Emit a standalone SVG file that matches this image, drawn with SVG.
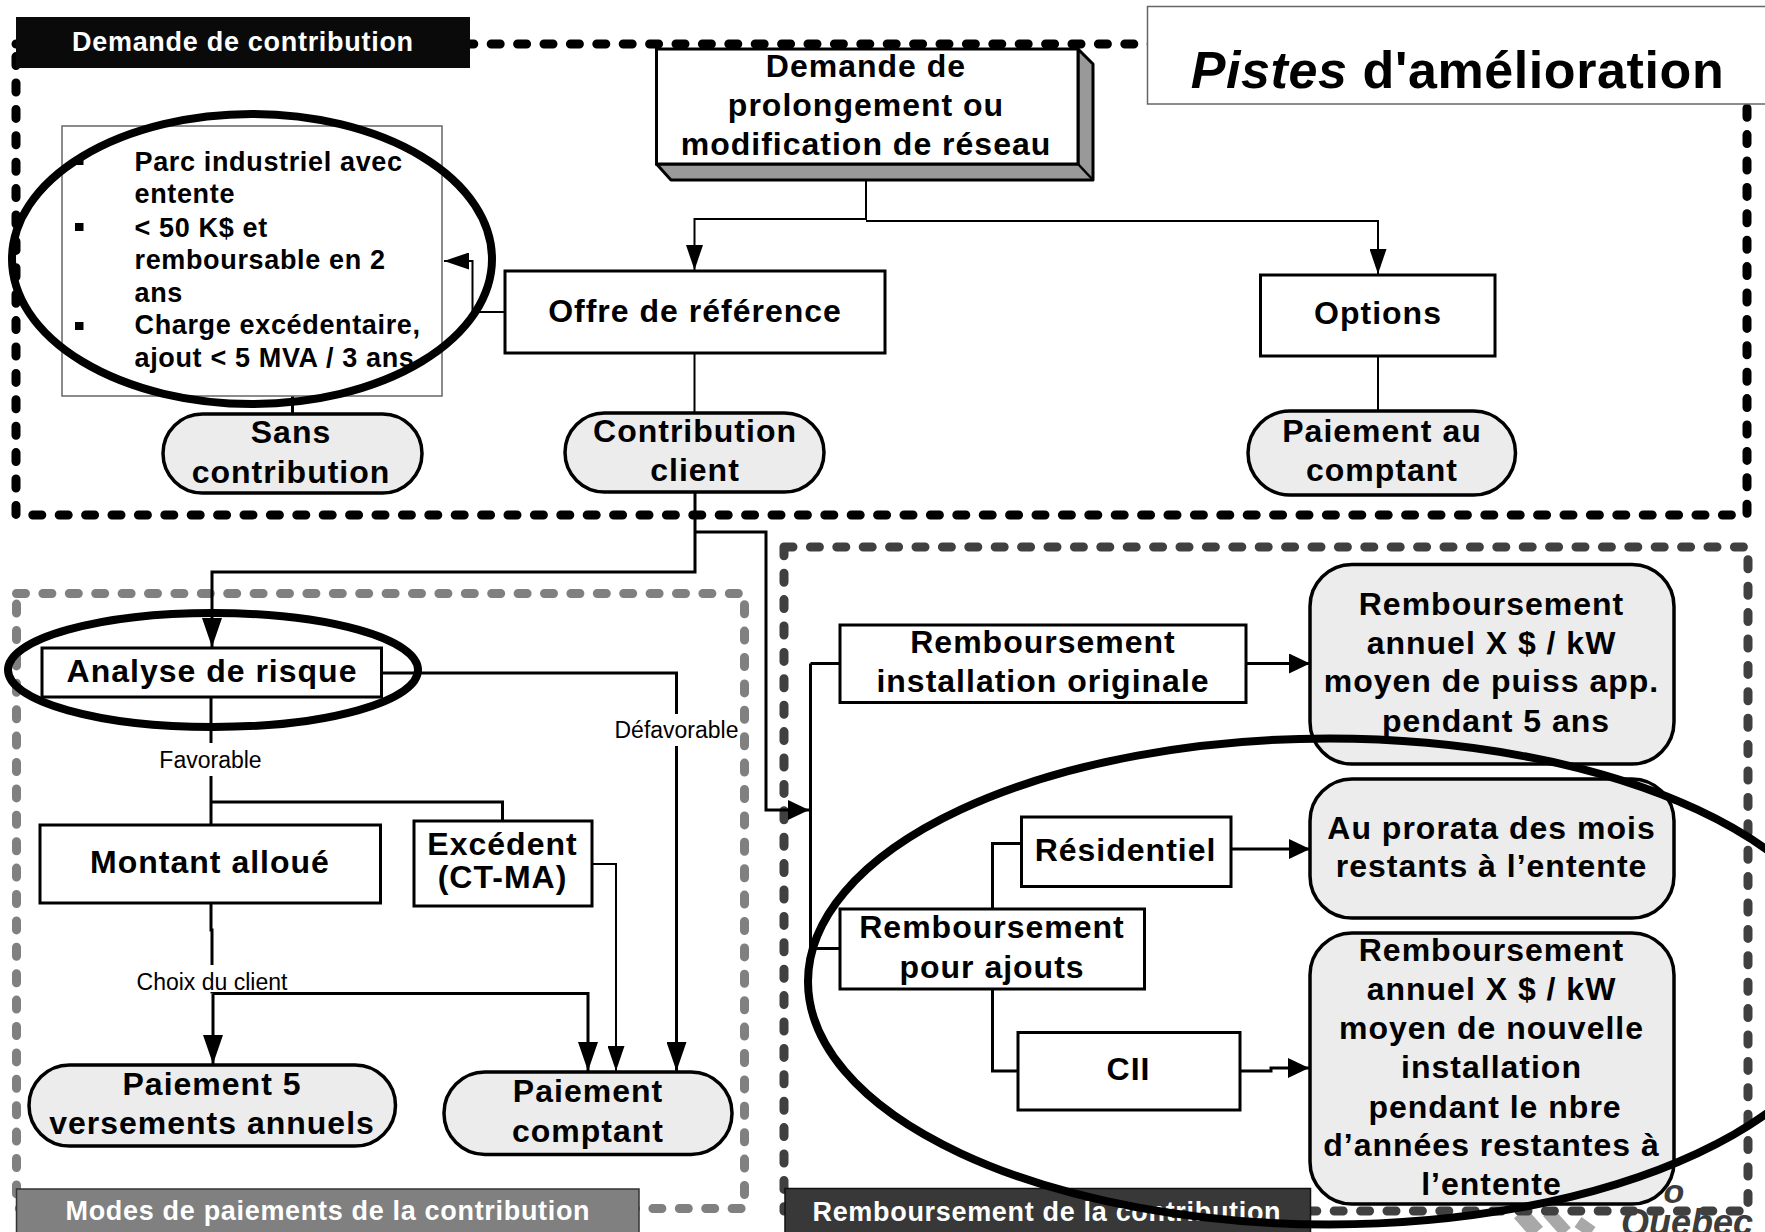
<svg xmlns="http://www.w3.org/2000/svg" width="1765" height="1232" viewBox="0 0 1765 1232">
<defs>
<style>
text{font-family:"Liberation Sans",Arial,sans-serif;font-weight:700;fill:#000;text-anchor:middle}
.t{font-size:32px;letter-spacing:1px}
.l{font-size:27px;letter-spacing:.65px;text-anchor:start}
.b{font-size:27px;letter-spacing:.9px;fill:#fff}
.s{font-size:23px;font-weight:400}
.box{fill:#fff;stroke:#000;stroke-width:3}
.pill{fill:#ececec;stroke:#000;stroke-width:3.5}
.dash{fill:none;stroke-width:9;stroke-linecap:round;stroke-linejoin:round;stroke-dasharray:9 17.4}
.c2{fill:none;stroke:#000;stroke-width:2}
.c3{fill:none;stroke:#000;stroke-width:3}
.ring{fill:none;stroke:#000;stroke-width:8}
.logo{fill:none;stroke:#a8a8a8}
</style>
<marker id="a" markerUnits="userSpaceOnUse" viewBox="0 0 29 20" refX="29" refY="10" markerWidth="29" markerHeight="20" orient="auto"><path d="M0 0L29 10L0 20z" fill="#000"/></marker>
<marker id="as" markerUnits="userSpaceOnUse" viewBox="0 0 25 17" refX="25" refY="8.5" markerWidth="25" markerHeight="17" orient="auto"><path d="M0 0L25 8.5L0 17z" fill="#000"/></marker>
<marker id="ar" markerUnits="userSpaceOnUse" viewBox="0 0 21 20" refX="21" refY="10" markerWidth="21" markerHeight="20" orient="auto"><path d="M0 0L21 10L0 20z" fill="#000"/></marker>
</defs>
<rect width="1765" height="1232" fill="#fff"/>

<g id="logo">
<path class="logo" stroke-width="16" d="M1520 1213L1537 1232"/>
<path class="logo" stroke-width="13" d="M1548 1212L1566 1232"/>
<path class="logo" stroke-width="12" d="M1578 1222L1592 1232"/>
<text x="1674" y="1203" style="font-size:34px;font-style:italic;fill:#3c3c3c">o</text>
<text x="1687" y="1235" style="font-size:36px;font-style:italic;fill:#3c3c3c">Québec</text>
</g>

<g id="zones">
<rect class="dash" x="16" y="44" width="1731" height="471" stroke="#000"/>
<rect class="dash" x="16.500" y="593.500" width="728" height="615" stroke="#808080"/>
<rect class="dash" x="784" y="547" width="964" height="664" stroke="#404040"/>
</g>

<g id="connectors">
<path class="c2" d="M866 164V219H694.500V270"  marker-end="url(#as)"/>
<path class="c2" d="M866 221H1378V274" marker-end="url(#as)"/>
<path class="c2" d="M505 312H472.500V261H444" marker-end="url(#as)"/>
<path class="c3" d="M292.500 395V414"/>
<path class="c2" d="M694.500 353V413"/>
<path class="c2" d="M1378 356V411"/>
<path class="c3" d="M695 492V572H212V647" marker-end="url(#a)"/>
<path class="c3" d="M695 532H766V810H809" marker-end="url(#ar)"/>
<path class="c3" d="M382 673H676.500V1071" marker-end="url(#a)"/>
<path class="c3" d="M211 697V825"/>
<path class="c3" d="M211 802H502.500V821"/>
<path class="c2" d="M592 864H616V1071" marker-end="url(#as)"/>
<path class="c3" d="M211 903V930H212V993.500"/>
<path class="c3" d="M213 993.500H588V1071" marker-end="url(#a)"/>
<path class="c3" d="M213 993.500V1064" marker-end="url(#a)"/>
<path class="c3" d="M810.500 663.500V948.500"/>
<path class="c3" d="M810.500 663.500H840M810.500 948.500H840"/>
<path class="c3" d="M1246 663.500H1310" marker-end="url(#ar)"/>
<path class="c3" d="M992.500 909V843.500H1021.500"/>
<path class="c3" d="M992.500 989V1071H1018"/>
<path class="c3" d="M1231 849H1310" marker-end="url(#ar)"/>
<path class="c3" d="M1240 1071H1271V1068H1309" marker-end="url(#ar)"/>
<rect x="640" y="714" width="72" height="32" fill="#fff"/>
<rect x="160" y="743" width="102" height="33" fill="#fff"/>
<rect x="137" y="965" width="150" height="27" fill="#fff"/>
</g>

<g id="banner-demande"><rect x="16" y="17" width="454" height="51" fill="#0a0a0a"/><text class="b" x="243" y="51" textLength="342">Demande de contribution</text></g>
<g id="title"><rect x="1147.500" y="6.500" width="630" height="97.500" fill="#fff" stroke="#666" stroke-width="1.500"/><text x="1457.500" y="88" style="font-size:52px;letter-spacing:.6px"><tspan style="font-style:italic">Pistes</tspan> d'amélioration</text></g>

<g id="demande">
<path d="M656.500 164H1078V49L1093 64V180H671z" fill="#999" stroke="#000" stroke-width="3" stroke-linejoin="round"/>
<path d="M1078 164L1093 180" stroke="#000" stroke-width="2.500"/>
<rect class="box" x="656.500" y="49" width="421.500" height="115"/>
<text class="t" x="866" y="76.500">Demande de</text><text class="t" x="866" y="115.500">prolongement ou</text><text class="t" x="866" y="155">modification de réseau</text>
</g>
<g id="offre"><rect class="box" x="505" y="271" width="380" height="82"/><text class="t" x="695" y="322">Offre de référence</text></g>
<g id="options"><rect class="box" x="1260.500" y="275" width="234.500" height="81"/><text class="t" x="1378" y="324">Options</text></g>
<g id="liste">
<rect x="62" y="126" width="380" height="270" fill="#fff" stroke="#666" stroke-width="1.500"/>
<rect x="75" y="157" width="8.500" height="8" fill="#000"/><rect x="75" y="223" width="8.500" height="8" fill="#000"/><rect x="75" y="322" width="8.500" height="8" fill="#000"/>
<text class="l" x="134.500" y="170.500">Parc industriel avec</text>
<text class="l" x="134.500" y="203">entente</text>
<text class="l" x="134.500" y="236.500">&lt; 50 K$ et</text>
<text class="l" x="134.500" y="268.500">remboursable en 2</text>
<text class="l" x="134.500" y="301.500">ans</text>
<text class="l" x="134.500" y="334">Charge excédentaire,</text>
<text class="l" x="134.500" y="367">ajout &lt; 5 MVA / 3 ans</text>
</g>
<g id="sans"><rect class="pill" x="163" y="414" width="259" height="79" rx="39.500"/><text class="t" x="291" y="443">Sans</text><text class="t" x="291" y="483">contribution</text></g>
<g id="contribution"><rect class="pill" x="565" y="413" width="259" height="79" rx="39.500"/><text class="t" x="695" y="442">Contribution</text><text class="t" x="695" y="481">client</text></g>
<g id="comptant-option"><rect class="pill" x="1248" y="411" width="267.500" height="84" rx="42"/><text class="t" x="1382" y="442">Paiement au</text><text class="t" x="1382" y="481">comptant</text></g>

<g id="analyse"><rect class="box" x="42" y="648" width="339.500" height="49"/><text class="t" x="212" y="682">Analyse de risque</text></g>
<g id="montant"><rect class="box" x="40" y="825" width="340.500" height="78"/><text class="t" x="210" y="873">Montant alloué</text></g>
<g id="excedent"><rect class="box" x="414" y="821" width="178" height="85"/><text class="t" x="502.500" y="855">Excédent</text><text class="t" x="502.500" y="888">(CT-MA)</text></g>
<g id="labels">
<text class="s" x="676.500" y="738">Défavorable</text>
<text class="s" x="210.500" y="768">Favorable</text>
<text class="s" x="212" y="990">Choix du client</text>
</g>
<g id="paiement5"><rect class="pill" x="29" y="1065" width="366.500" height="81" rx="40.500"/><text class="t" x="212" y="1095">Paiement 5</text><text class="t" x="212" y="1134">versements annuels</text></g>
<g id="paiement-comptant"><rect class="pill" x="444" y="1072" width="288" height="82.500" rx="41"/><text class="t" x="588" y="1102">Paiement</text><text class="t" x="588" y="1141.500">comptant</text></g>
<g id="banner-modes"><rect x="16.500" y="1189" width="622.500" height="50" fill="#808080" stroke="#333" stroke-width="1.500"/><text class="b" x="328" y="1220" textLength="525">Modes de paiements de la contribution</text></g>

<g id="rinst"><rect class="box" x="840" y="625" width="406" height="77.500"/><text class="t" x="1043" y="653">Remboursement</text><text class="t" x="1043" y="692">installation originale</text></g>
<g id="rajouts"><rect class="box" x="840" y="909" width="304.500" height="80"/><text class="t" x="992" y="938">Remboursement</text><text class="t" x="992" y="977.500">pour ajouts</text></g>
<g id="residentiel"><rect class="box" x="1021.500" y="817" width="209.500" height="69.500"/><text class="t" x="1125.500" y="860.500">Résidentiel</text></g>
<g id="cii"><rect class="box" x="1018" y="1032.500" width="222" height="77.500"/><text class="t" x="1128.500" y="1080">CII</text></g>
<g id="res1"><rect class="pill" x="1310" y="564.500" width="364" height="199.500" rx="42"/><text class="t" x="1491.500" y="615">Remboursement</text><text class="t" x="1491.500" y="654">annuel X $ / kW</text><text class="t" x="1491.500" y="692">moyen de puiss app.</text><text class="t" x="1496" y="732">pendant 5 ans</text></g>
<g id="res2"><rect class="pill" x="1310" y="779" width="364" height="139" rx="42"/><text class="t" x="1491.500" y="838.500">Au prorata des mois</text><text class="t" x="1491.500" y="877">restants à l’entente</text></g>
<g id="res3"><rect class="pill" x="1310" y="933" width="364" height="271" rx="42"/><text class="t" x="1491.500" y="960.500">Remboursement</text><text class="t" x="1491.500" y="999.500">annuel X $ / kW</text><text class="t" x="1491.500" y="1039">moyen de nouvelle</text><text class="t" x="1491.500" y="1078">installation</text><text class="t" x="1495" y="1117.500">pendant le nbre</text><text class="t" x="1491.500" y="1156">d’années restantes à</text><text class="t" x="1491.500" y="1195">l’entente</text></g>
<g id="banner-remb"><rect x="785" y="1188.500" width="525.500" height="50" fill="#383838" stroke="#111" stroke-width="1.500"/><text class="b" x="1047" y="1220.500" textLength="469">Remboursement de la contribution</text></g>

<g id="rings">
<ellipse class="ring" cx="252" cy="259" rx="240" ry="145"/>
<ellipse class="ring" cx="213" cy="670" rx="205" ry="57"/>
<ellipse class="ring" cx="1329" cy="981.500" rx="521" ry="243"/>
</g>
</svg>
